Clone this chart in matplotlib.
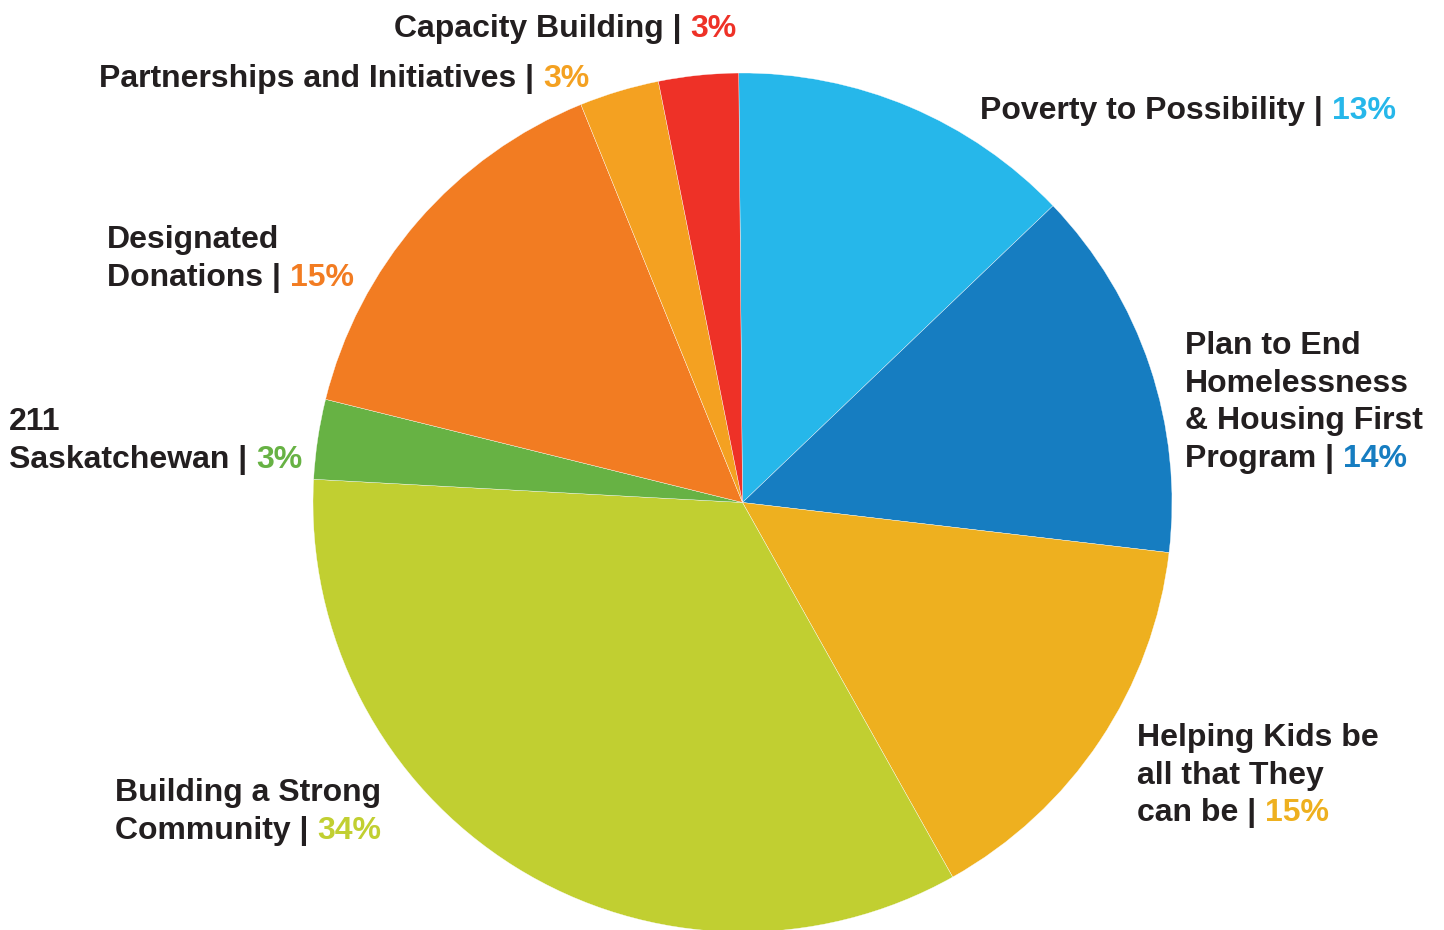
import matplotlib
matplotlib.use("Agg")
import matplotlib.pyplot as plt

# ================= DATA =================
categories = [
    "Poverty to Possibility",
    "Plan to End Homelessness & Housing First Program",
    "Helping Kids be all that They can be",
    "Building a Strong Community",
    "211 Saskatchewan",
    "Designated Donations",
    "Partnerships and Initiatives",
    "Capacity Building",
]
shares = [13, 14, 15, 34, 3, 15, 3, 3]
colors = ["#26B7EA", "#167DC1", "#EEB01F", "#C1CF31",
          "#67B244", "#F27C22", "#F4A121", "#EE3127"]

# label lines as printed on the chart (last line gets " | xx%")
label_lines = [
    ["Poverty to Possibility"],
    ["Plan to End", "Homelessness", "& Housing First", "Program"],
    ["Helping Kids be", "all that They", "can be"],
    ["Building a Strong", "Community"],
    ["211", "Saskatchewan"],
    ["Designated", "Donations"],
    ["Partnerships and Initiatives"],
    ["Capacity Building"],
]
# left edge / first baseline of each label, in pixels from top-left
label_pos = [(980, 119), (1185, 354), (1137, 746), (115, 801),
             (9, 430), (107, 248), (99, 87), (394, 37)]

W, H = 1444, 930
DARK = "#231F20"
FONT = "Liberation Sans"
FS = 23.0
LINE = 37.7

fig = plt.figure(figsize=(W / 100, H / 100), dpi=100)
ax = fig.add_axes([0, 0, 1, 1])

# ================= PIE =================
ax.pie(shares, colors=colors, startangle=90.5, counterclock=False,
       center=(742.5, H - 502.5), radius=429.5,
       wedgeprops=dict(edgecolor="white", linewidth=0.25))
ax.set_xlim(0, W)
ax.set_ylim(0, H)
ax.set_aspect("equal")
ax.axis("off")

# ================= LABELS =================
fig.canvas.draw()
renderer = fig.canvas.get_renderer()
inv = ax.transData.inverted()

for lines, (x, y0), pct, col in zip(label_lines, label_pos, shares, colors):
    for i, line in enumerate(lines):
        y = H - (y0 + i * LINE)
        last = i == len(lines) - 1
        txt = ax.text(x, y, line + (" | " if last else ""), color=DARK,
                      fontsize=FS, fontweight="bold", family=FONT,
                      ha="left", va="baseline")
        if last:
            bb = txt.get_window_extent(renderer)
            x_end = inv.transform((bb.x1, bb.y0))[0]
            ax.text(x_end, y, f"{pct}%", color=col, fontsize=FS,
                    fontweight="bold", family=FONT, ha="left", va="baseline")

plt.savefig("out.png", dpi=100)
plt.close()
